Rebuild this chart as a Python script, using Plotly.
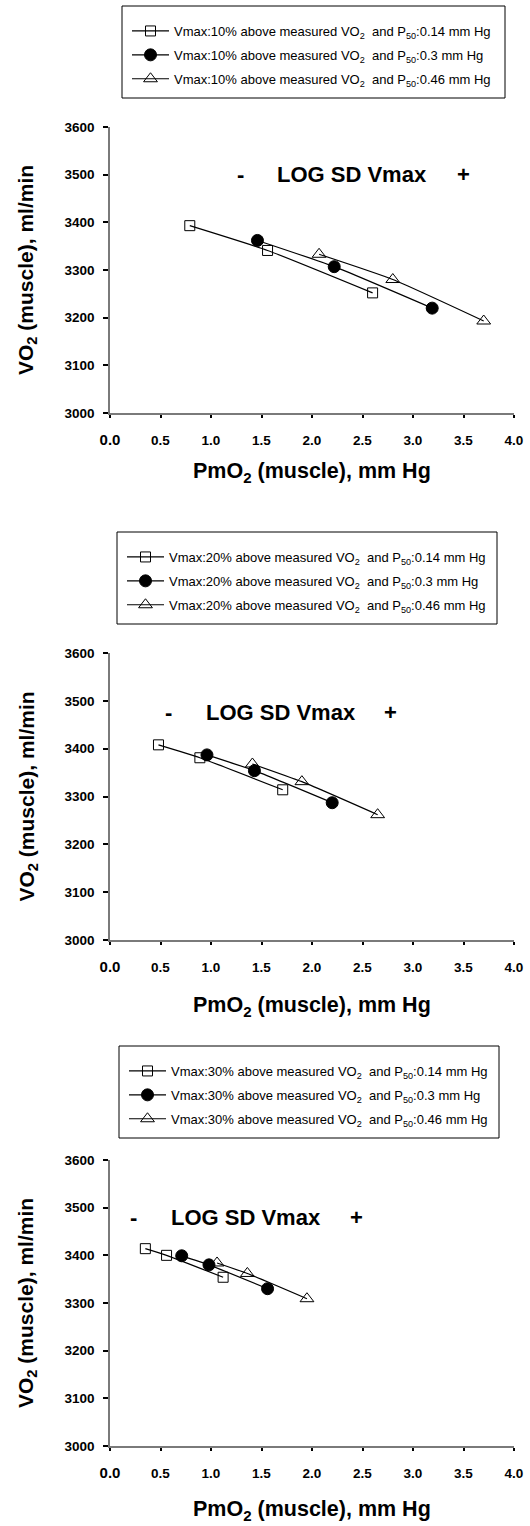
import plotly.graph_objects as go

W, H = 530, 1526
FONT = "Liberation Sans, Arial, Helvetica, sans-serif"

# ---------------- data ----------------
x_tick_vals = [0.0, 0.5, 1.0, 1.5, 2.0, 2.5, 3.0, 3.5, 4.0]
x_tick_text = ["<span style='font-size:15px'>0.0</span>", "0.5", "1.0", "1.5", "2.0", "2.5", "3.0", "3.5", "4.0"]
y_tick_vals = [3000, 3100, 3200, 3300, 3400, 3500, 3600]

vmax_pct = ["10%", "20%", "30%"]
p50_vals = ["0.14", "0.3", "0.46"]

# Panel 1 (Vmax 10%)
p1_sq_x = [0.79, 1.56, 2.60]
p1_sq_y = [3393, 3341, 3252]
p1_ci_x = [1.46, 2.22, 3.19]
p1_ci_y = [3362, 3307, 3220]
p1_tr_x = [2.07, 2.80, 3.70]
p1_tr_y = [3333, 3280, 3193]

# Panel 2 (Vmax 20%)
p2_sq_x = [0.48, 0.89, 1.71]
p2_sq_y = [3408, 3381, 3314]
p2_ci_x = [0.96, 1.43, 2.20]
p2_ci_y = [3387, 3354, 3287]
p2_tr_x = [1.41, 1.90, 2.65]
p2_tr_y = [3368, 3331, 3262]

# Panel 3 (Vmax 30%)
p3_sq_x = [0.35, 0.56, 1.12]
p3_sq_y = [3414, 3400, 3354]
p3_ci_x = [0.71, 0.98, 1.56]
p3_ci_y = [3399, 3380, 3330]
p3_tr_x = [1.06, 1.36, 1.95]
p3_tr_y = [3384, 3362, 3309]

# annotation positions of "-  LOG SD Vmax  +" (data coords)
minus_x = [1.29, 0.58, 0.23]
label_x = [2.40, 1.69, 1.35]
plus_x = [3.50, 2.78, 2.44]
label_y = [3500, 3475, 3480]

panels = [
    [(p1_sq_x, p1_sq_y), (p1_ci_x, p1_ci_y), (p1_tr_x, p1_tr_y)],
    [(p2_sq_x, p2_sq_y), (p2_ci_x, p2_ci_y), (p2_tr_x, p2_tr_y)],
    [(p3_sq_x, p3_sq_y), (p3_ci_x, p3_ci_y), (p3_tr_x, p3_tr_y)],
]

# ---------------- layout geometry (pixels) ----------------
plot_left, plot_right = 110, 514
plot_tops = [127, 653, 1160]
plot_bottoms = [413, 940, 1446]
legend_boxes = [(122, 505, 6, 98), (117, 497, 532, 624), (119, 499, 1046, 1138)]
xtitle_shift = [-59, -66, -64]

markers = [
    dict(symbol="square-open", size=10, color="black", line=dict(width=1, color="black")),
    dict(symbol="circle", size=12, color="black", line=dict(width=1, color="black")),
    dict(symbol="triangle-up-open", size=12, color="black", line=dict(width=1, color="black")),
]

fig = go.Figure()
annotations = []
shapes = []
layout = {}

for i in range(3):
    n = "" if i == 0 else str(i + 1)
    xa, ya = "x" + n, "y" + n
    leg = "legend" + n
    for j, (xs, ys) in enumerate(panels[i]):
        name = (f"Vmax:{vmax_pct[i]} above measured VO<sub>2</sub>  and "
                f"P<sub>50</sub>:{p50_vals[j]} mm Hg")
        fig.add_trace(go.Scatter(
            x=xs, y=ys, mode="lines+markers", name=name,
            line=dict(color="black", width=1.2, shape="spline", smoothing=0.5),
            marker=markers[j], xaxis=xa, yaxis=ya, legend=leg,
            legendgroup=f"g{i}{j}",
        ))

    ydom = [1 - plot_bottoms[i] / H, 1 - plot_tops[i] / H]
    xdom = [plot_left / W, plot_right / W]
    layout["xaxis" + n] = dict(
        domain=xdom, range=[0, 4], anchor=ya, showgrid=False, zeroline=False,
        showline=True, linecolor="#7a7a7a", linewidth=1.5,
        tickvals=x_tick_vals, ticktext=x_tick_text, ticks="outside", ticklen=3,
        tickwidth=2, tickcolor="black", ticklabelstandoff=11,
        tickfont=dict(family=FONT, size=13.5, color="black", weight="bold"),
        automargin=False, fixedrange=True,
    )
    layout["yaxis" + n] = dict(
        domain=ydom, range=[3000, 3600], anchor=xa, showgrid=False, zeroline=False,
        showline=True, linecolor="#7a7a7a", linewidth=1.5,
        tickvals=y_tick_vals, ticks="outside", ticklen=5, tickwidth=2, tickcolor="black",
        ticklabelstandoff=6,
        tickfont=dict(family=FONT, size=13.5, color="black", weight="bold"),
        automargin=False, fixedrange=True,
    )
    # top / right border axes
    k = str(i + 4)
    layout["xaxis" + k] = dict(
        overlaying=xa, anchor=ya, side="top", range=[0, 4], showgrid=False,
        zeroline=False, showline=True, linecolor="black", linewidth=1.2,
        showticklabels=False, ticks="", automargin=False, fixedrange=True,
    )
    layout["yaxis" + k] = dict(
        overlaying=ya, anchor=xa, side="right", range=[3000, 3600], showgrid=False,
        zeroline=False, showline=True, linecolor="black", linewidth=1.2,
        tickvals=y_tick_vals, ticks="outside", ticklen=5, tickwidth=2,
        tickcolor="black", showticklabels=False, automargin=False, fixedrange=True,
    )

    lx0, lx1, ly0, ly1 = legend_boxes[i]
    layout[leg] = dict(
        x=(lx0 + 5) / W, y=1 - (ly0 + 10) / H, xanchor="left", yanchor="top",
        bgcolor="rgba(0,0,0,0)", borderwidth=0, itemwidth=37,
        font=dict(family=FONT, size=13, color="black"),
        traceorder="grouped", tracegroupgap=4, itemclick=False, itemdoubleclick=False,
    )
    shapes.append(dict(type="rect", xref="paper", yref="paper",
                       x0=lx0 / W, x1=lx1 / W, y0=1 - ly1 / H, y1=1 - ly0 / H,
                       line=dict(color="black", width=1), fillcolor="rgba(0,0,0,0)"))

    for tx, txt in ((minus_x[i], "-"), (label_x[i], "LOG SD Vmax"), (plus_x[i], "+")):
        annotations.append(dict(
            x=tx, y=label_y[i], xref=xa, yref=ya, text=txt, showarrow=False,
            font=dict(family=FONT, size=22, color="black", weight="bold"),
        ))
    annotations.append(dict(
        x=0.5, y=0, xref=xa + " domain", yref=ya + " domain", yshift=xtitle_shift[i],
        yanchor="middle", text="PmO<sub>2</sub> (muscle), mm Hg", showarrow=False,
        font=dict(family=FONT, size=21.5, color="black", weight="bold"),
    ))
    annotations.append(dict(
        x=0, y=0.5, xref=xa + " domain", yref=ya + " domain", xshift=-83,
        xanchor="center", text="VO<sub>2</sub> (muscle), ml/min", showarrow=False,
        textangle=-90, font=dict(family=FONT, size=21, color="black", weight="bold"),
    ))

fig.update_layout(
    width=W, height=H, margin=dict(l=0, r=0, t=0, b=0),
    paper_bgcolor="white", plot_bgcolor="white",
    annotations=annotations, shapes=shapes, hovermode=False,
    **layout,
)

fig.write_html("out.html", config={"displayModeBar": False})
